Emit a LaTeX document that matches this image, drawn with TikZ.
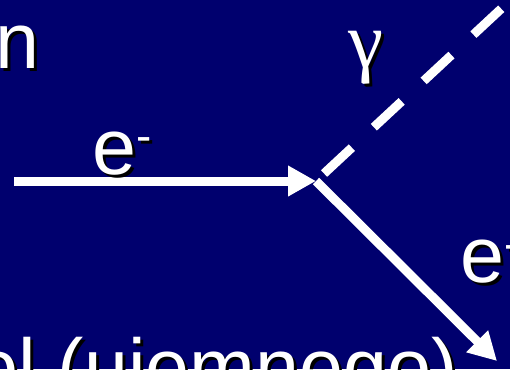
\documentclass[tikz,border=0pt]{standalone}
\usepackage{fontspec}
\setmainfont{Liberation Sans}
\newfontfamily\greekfont{Liberation Serif}
\usepackage{tikz}
\usetikzlibrary{arrows.meta, calc}
\definecolor{slidebg}{RGB}{0,0,110}

% text with a dark drop shadow
\newcommand{\shadowlabel}[4]{%
  \node[#2, black, xshift=0.06cm, yshift=-0.06cm] at #3 {#4};
  \node[#2] (#1) at #3 {#4};}

\begin{document}
\begin{tikzpicture}[x=0.02cm, y=-0.02cm,
    txt/.style={text=white, inner sep=0pt, anchor=base west, font=\fontsize{45}{54}\selectfont},
    greek/.style={text=white, inner sep=0pt, font=\greekfont\fontsize{45}{54}\selectfont},
    electron/.style={white, line width=0.18cm, -{Triangle[length=0.56cm, width=0.58cm]}},
    photon/.style={white, line width=0.18cm, dash pattern=on 0.76cm off 0.6cm, dash phase=1.14cm}]
\useasboundingbox (0,0) rectangle (510,369);
\fill[slidebg] (0,0) rectangle (510,369);
\clip (0,0) rectangle (510,369);
\coordinate (ein) at (14,181);
\coordinate (vtx) at (316,181);
\coordinate (eout) at (497,361);
\coordinate (gend) at (530,-18);
\draw[electron] (ein) -- (vtx);
\draw[electron] (vtx) -- (eout);
\draw[photon] (vtx) -- (gend);
\shadowlabel{title}{txt}{(-5,68)}{n}
\shadowlabel{ein-lbl}{txt}{(92,174)}{e\raisebox{0.28em}{\fontsize{26}{26}\selectfont-}}
\shadowlabel{eout-lbl}{txt}{(460,282)}{e\raisebox{0.28em}{\fontsize{26}{26}\selectfont-}}
\shadowlabel{gamma-lbl}{greek}{(366,58)}{γ}
\shadowlabel{caption}{txt}{(-26,394)}{ol (ujemnego)}
\end{tikzpicture}
\end{document}
